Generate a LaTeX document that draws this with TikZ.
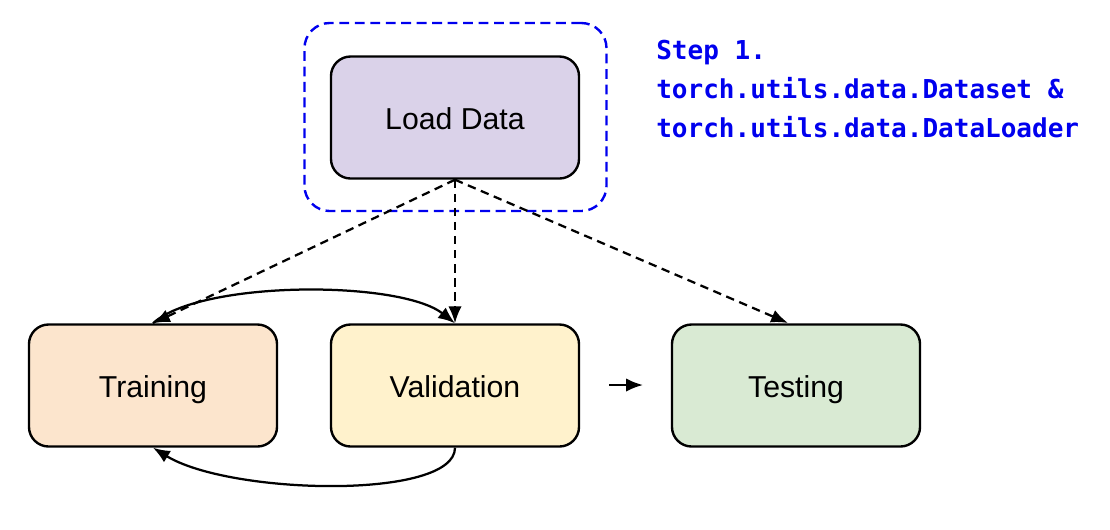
\documentclass[tikz,border=0pt]{standalone}
\usepackage{fontspec}
\setmainfont{Liberation Sans}
\setmonofont{DejaVu Sans Mono}
\usetikzlibrary{arrows.meta}
\definecolor{loadfill}{HTML}{DAD2E9}
\definecolor{trainfill}{HTML}{FCE5CD}
\definecolor{valfill}{HTML}{FFF2CC}
\definecolor{testfill}{HTML}{D9EAD3}
\definecolor{stepblue}{HTML}{0000EE}
\tikzset{
  stagebox/.style={rectangle, rounded corners=14pt, draw, line width=1.7pt,
    minimum width=6.2cm, minimum height=3.05cm, text height=18.3pt, text depth=1.7pt,
    font=\fontsize{21.5}{26}\selectfont},
  flow/.style={-{Latex[length=12pt,width=9.5pt]}, line width=1.6pt},
  dataflow/.style={flow, dash pattern=on 6pt off 4pt}
}

\begin{document}
\begin{tikzpicture}[x=0.025cm, y=-0.025cm]
            \useasboundingbox (0,0) rectangle (1110,529);
            % Draw nodes
            \node[stagebox, fill=loadfill] (load) at (455,117.5) {Load Data};
            \node[stagebox, fill=trainfill] (train) at (153,385.5) {Training};
            \node[stagebox, fill=valfill] (val) at (455,385.5) {Validation};
            \node[stagebox, fill=testfill] (test) at (796,385.5) {Testing};
            \node[rectangle, rounded corners=18pt, draw=stepblue, line width=1.7pt,
              dash pattern=on 7pt off 4pt, minimum width=7.55cm, minimum height=4.7cm]
              (step) at (455.5,117) {};
            \node[anchor=north west, inner sep=0pt, align=left, text=stepblue,
              font=\ttfamily\bfseries\fontsize{18.5}{27.6}\selectfont]
              (note) at (656,40) {Step 1.\\torch.utils.data.Dataset \&\\torch.utils.data.DataLoader};
            \coordinate (testtop) at (788,323);
            \coordinate (gapstart) at (609,385);
            \coordinate (gapend) at (643,385);

            % Draw connections
            \draw[dataflow] (load.south) -- (train.north);
            \draw[dataflow] (load.south) -- (val.north);
            \draw[dataflow] (load.south) -- (testtop);
            \draw[flow] (train.north) .. controls (200,280) and (400,280) .. (val.north);
            \draw[flow] (val.south) .. controls (455,500) and (230,495) .. (train.south);
            \draw[flow] (gapstart) -- (gapend);
        \end{tikzpicture}
\end{document}
